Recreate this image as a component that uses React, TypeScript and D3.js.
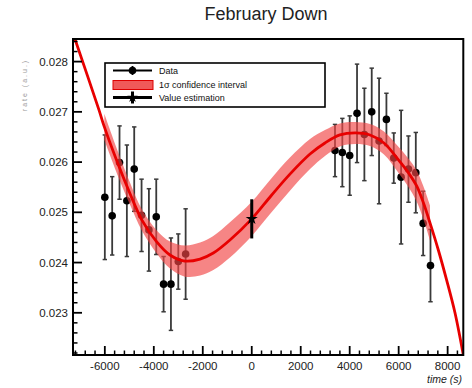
import React from 'react';
import * as d3 from 'd3';

// Measured data points (time in s, value, symmetric error)
const dataX = [-6000, -5700, -5400, -5100, -4800, -4500, -4200, -3900, -3600, -3300, -3000, -2700,
  3400, 3700, 4000, 4300, 4600, 4900, 5200, 5500, 5800, 6100, 6400, 6700, 7000, 7300];
const dataY = [0.02530, 0.02493, 0.02599, 0.02523, 0.02586, 0.02494, 0.02465, 0.02491, 0.02357, 0.02357, 0.02402, 0.02417,
  0.02623, 0.02619, 0.02613, 0.02697, 0.02655, 0.02700, 0.02642, 0.02685, 0.02608, 0.02570, 0.02586, 0.02579, 0.02478, 0.02394];
const dataErr = [0.00124, 0.00078, 0.00073, 0.00111, 0.00084, 0.00072, 0.00082, 0.00075, 0.00055, 0.00092, 0.00055, 0.00090,
  0.00052, 0.00068, 0.00079, 0.00098, 0.00092, 0.00087, 0.00125, 0.00052, 0.00050, 0.00133, 0.00066, 0.00080, 0.00064, 0.00072];

// Value estimation
const estX = [0];
const estY = [0.02487];
const estErr = [0.00039];

// Fit curve
const fitX = [-7300, -7220, -6240, -6020, -5460, -4970, -4490, -3880, -3340, -2730, -2110, -1570, -890, 0,
  790, 1560, 2380, 2990, 3600, 4220, 4830, 5400, 6000, 6380, 6740, 7010, 7280, 7620, 7960, 8300, 8640];
const fitY = [0.02857, 0.02845, 0.02704, 0.02670, 0.02596, 0.02537, 0.02485, 0.02441, 0.02415, 0.02403, 0.02407, 0.02419, 0.02445, 0.02487,
  0.02533, 0.02576, 0.02616, 0.02638, 0.02654, 0.02658, 0.02654, 0.02638, 0.02604, 0.02580, 0.02552, 0.02519, 0.02479, 0.02425, 0.02365, 0.02300, 0.02216];

// 1 sigma confidence band (half width) over the data range
const bandX = [-6020, -5460, -4970, -4490, -3880, -3340, -2730, -2110, -1570, -890, 0,
  790, 1560, 2380, 2990, 3600, 4220, 4830, 5400, 6000, 6380, 6740, 7010, 7280];
const bandHalf = [0.00026, 0.00024, 0.00022, 0.00021, 0.00023, 0.00027, 0.00031, 0.00033, 0.00034, 0.00035, 0.00034,
  0.00034, 0.00033, 0.00030, 0.00026, 0.00023, 0.00022, 0.00022, 0.00023, 0.00026, 0.00028, 0.00031, 0.00033, 0.00035];

const xMajorTicks = [-6000, -4000, -2000, 0, 2000, 4000, 6000, 8000];
const yMajorTicks = [0.023, 0.024, 0.025, 0.026, 0.027, 0.028];
const yTickLabels = ['0.023', '0.024', '0.025', '0.026', '0.027', '0.028'];
const legendLabels = ['Data', '1\u03c3 confidence interval', 'Value estimation'];
const titleText = 'February Down';
const xTitle = 'time (s)';
const yTitle = 'rate (a.u.)';

export default function App() {
  const W = 472, H = 388;
  const L = 73, R = 463.3, T = 39, B = 355;
  const x = d3.scaleLinear().domain([-7300, 8640]).range([L, R]);
  const y = d3.scaleLinear().domain([0.02216, 0.02845]).range([B, T]);
  const font = "'Liberation Sans', Arial, Helvetica, sans-serif";

  const fitPts: [number, number][] = fitX.map((v, i) => [v, fitY[i]]);
  const line = d3.line<[number, number]>()
    .x(d => x(d[0])).y(d => y(d[1]))
    .curve(d3.curveCatmullRom.alpha(0.5));

  const bandPts = bandX.map((bx, i) => {
    const c = fitY[fitX.indexOf(bx)];
    return { x: bx, lo: c - bandHalf[i], hi: c + bandHalf[i] };
  });
  const area = d3.area<{ x: number; lo: number; hi: number }>()
    .x(d => x(d.x)).y0(d => y(d.lo)).y1(d => y(d.hi))
    .curve(d3.curveCatmullRom.alpha(0.5));

  // minor ticks
  const xMinor: number[] = [];
  for (let k = -18; k <= 21; k++) {
    const v = k * 400;
    if (k % 5 !== 0 && v >= -7300 && v <= 8640) xMinor.push(v);
  }
  const yMinor: number[] = [];
  for (let k = 111; k <= 142; k++) {
    const v = k * 0.0002;
    if (k % 5 !== 0 && v >= 0.02216 && v <= 0.02845) yMinor.push(v);
  }

  const starPath = d3.symbol().type(d3.symbolStar).size(46)() as string;
  const starSmall = d3.symbol().type(d3.symbolStar).size(34)() as string;

  const barColor = '#3a3a3a';
  const lg = { x0: 105, y0: 63, x1: 325, y1: 107 };

  return (
    <svg width={W} height={H} style={{ position: 'absolute', left: 0, top: 0, background: '#fff' }}
      fontFamily={font}>
      <defs>
        <clipPath id="frameClip">
          <rect x={L} y={T} width={R - L} height={B - T} />
        </clipPath>
      </defs>
      <rect x={0} y={0} width={W} height={H} fill="#fff" />

      {/* title */}
      <text x={266} y={20} fontSize={18} textAnchor="middle" fill="#222">{titleText}</text>

      {/* data error bars and markers */}
      <g>
        {dataX.map((dx, i) => {
          const cx = x(dx);
          const y1 = y(dataY[i] + dataErr[i]);
          const y2 = y(dataY[i] - dataErr[i]);
          return (
            <g key={i}>
              <line x1={cx} x2={cx} y1={y1} y2={y2} stroke={barColor} strokeWidth={1.8} />
              <line x1={cx - 2.2} x2={cx + 2.2} y1={y1} y2={y1} stroke={barColor} strokeWidth={1.5} />
              <line x1={cx - 2.2} x2={cx + 2.2} y1={y2} y2={y2} stroke={barColor} strokeWidth={1.5} />
              <circle cx={cx} cy={y(dataY[i])} r={3.8} fill="#000" />
            </g>
          );
        })}
      </g>

      {/* confidence band and fit line */}
      <g clipPath="url(#frameClip)">
        <path d={area(bandPts) || ''} fill="rgb(242,70,70)" fillOpacity={0.66} />
        <path d={line(fitPts) || ''} fill="none" stroke="#e80000" strokeWidth={2.8} />
      </g>

      {/* value estimation */}
      {estX.map((ex, i) => (
        <g key={i}>
          <line x1={x(ex)} x2={x(ex)} y1={y(estY[i] + estErr[i])} y2={y(estY[i] - estErr[i])}
            stroke="#000" strokeWidth={3} />
          <path d={starPath} transform={`translate(${x(ex)},${y(estY[i])})`} fill="#000" />
        </g>
      ))}

      {/* frame */}
      <rect x={L} y={T} width={R - L} height={B - T} fill="none" stroke="#000" strokeWidth={2} />

      {/* y axis ticks */}
      {yMajorTicks.map((v, i) => (
        <g key={'ym' + i}>
          <line x1={L} x2={L + 9} y1={y(v)} y2={y(v)} stroke="#000" strokeWidth={1.8} />
          <text x={68} y={y(v) + 4} fontSize={11.5} textAnchor="end" fill="#222">{yTickLabels[i]}</text>
        </g>
      ))}
      {yMinor.map((v, i) => (
        <line key={'yn' + i} x1={L} x2={L + 4.5} y1={y(v)} y2={y(v)} stroke="#000" strokeWidth={1.5} />
      ))}

      {/* x axis ticks */}
      {xMajorTicks.map((v, i) => (
        <g key={'xm' + i}>
          <line x1={x(v)} x2={x(v)} y1={B} y2={B - 9} stroke="#000" strokeWidth={1.8} />
          <text x={x(v)} y={370} fontSize={11.5} textAnchor="middle" fill="#222">{String(v)}</text>
        </g>
      ))}
      {xMinor.map((v, i) => (
        <line key={'xn' + i} x1={x(v)} x2={x(v)} y1={B} y2={B - 4.5} stroke="#000" strokeWidth={1.5} />
      ))}

      {/* axis titles */}
      <text x={462} y={383} fontSize={10.5} textAnchor="end" fontStyle="italic" fill="#222">{xTitle}</text>
      <text transform="translate(27,85) rotate(-90)" fontSize={7} textAnchor="middle" fill="#999"
        letterSpacing={2}>{yTitle}</text>

      {/* legend */}
      <rect x={lg.x0} y={lg.y0} width={lg.x1 - lg.x0} height={lg.y1 - lg.y0} fill="#fff" stroke="#000" strokeWidth={1.6} />
      <g>
        <line x1={113} x2={152} y1={70.5} y2={70.5} stroke="#000" strokeWidth={1.8} />
        <line x1={132.5} x2={132.5} y1={66} y2={75} stroke="#000" strokeWidth={1.8} />
        <circle cx={132.5} cy={70.5} r={3.8} fill="#000" />
        <text x={159} y={73.5} fontSize={9} fill="#111">{legendLabels[0]}</text>

        <rect x={113} y={80.5} width={40} height={9} fill="rgb(240,90,90)" stroke="#d00" strokeWidth={1} />
        <text x={159} y={88} fontSize={9} fill="#111">{legendLabels[1]}</text>

        <line x1={113} x2={152} y1={97.5} y2={97.5} stroke="#000" strokeWidth={3} />
        <line x1={132.5} x2={132.5} y1={91.5} y2={103.5} stroke="#000" strokeWidth={3} />
        <path d={starSmall} transform="translate(132.5,97.5)" fill="#000" />
        <text x={159} y={101} fontSize={9} fill="#111">{legendLabels[2]}</text>
      </g>
    </svg>
  );
}
